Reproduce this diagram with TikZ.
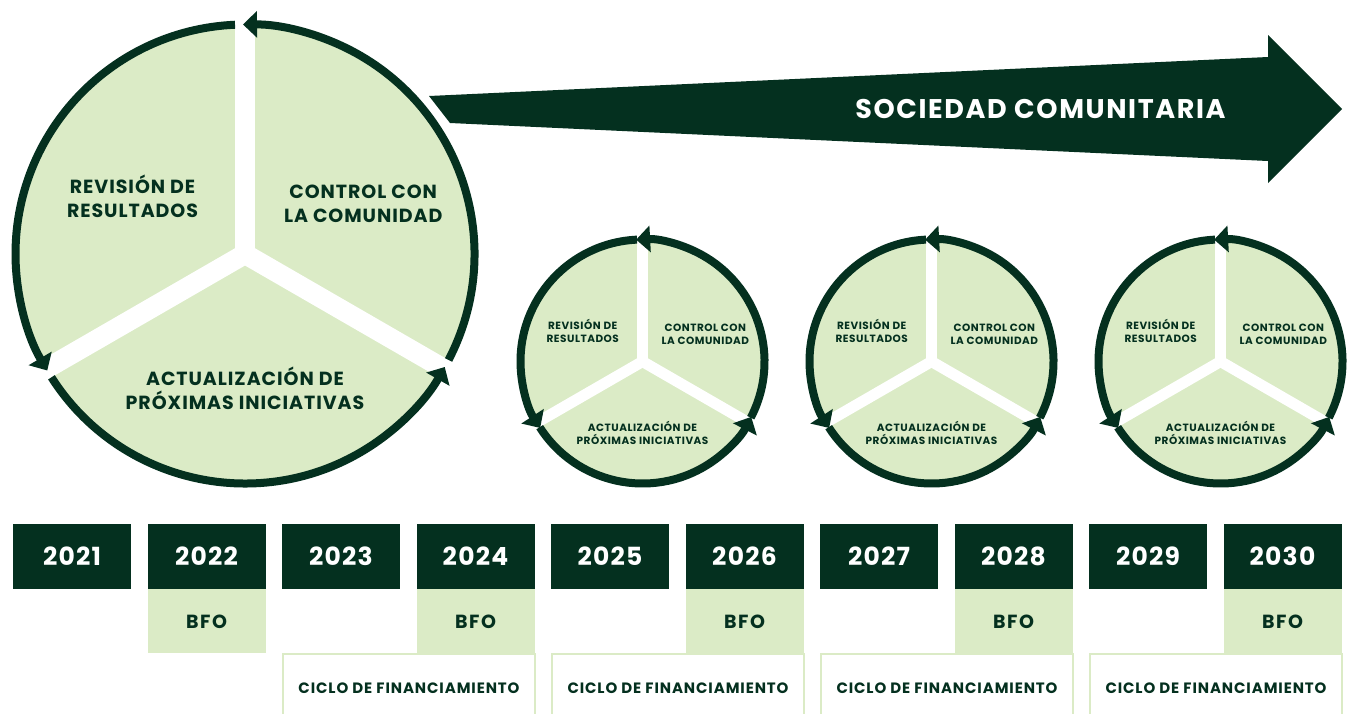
\documentclass[tikz,border=0pt]{standalone}
\usepackage{fontspec}
\setmainfont{Poppins}[LetterSpace=5]
\usetikzlibrary{arrows.meta,positioning}
\definecolor{verdeoscuro}{HTML}{04301F}
\definecolor{verdeclaro}{HTML}{DBEBC6}
\tikzset{
  pics/rueda/.style n args={4}{code={
    % disco con tres sectores
    \fill[verdeclaro] (0,0) circle (#1);
    \foreach \a in {90,210,330}
      \draw[white,line width=#2] (0,0) -- ({\a}:{#1+8});
    % flechas del ciclo
    \foreach \a in {90,210,330}
      \draw[anillo] ({\a+asin(#2/2/#1)}:#1) arc[start angle={\a+asin(#2/2/#1)},end angle={\a+120+#3},radius=#1];
    \node[texto rueda,font=#4] (-rev) at ({-0.49*#1},{0.25*#1}) {REVISIÓN DE\\RESULTADOS};
    \node[texto rueda,font=#4] (-con) at ({0.515*#1},{0.22*#1}) {CONTROL CON\\LA COMUNIDAD};
    \node[texto rueda,font=#4] (-act) at (0,{-0.585*#1}) {ACTUALIZACIÓN DE\\PRÓXIMAS INICIATIVAS};
  }}
}
\begin{document}
\begin{tikzpicture}[x=1pt,y=1pt,
    anillo/.style={verdeoscuro,line width=8,-{Triangle[length=14pt,width=26pt]}},
    texto rueda/.style={align=center,text=verdeoscuro,inner sep=0},
    anio/.style={fill=verdeoscuro,text=white,minimum width=118,minimum height=65,inner sep=0,font=\fontsize{25}{25}\selectfont\bfseries},
    bfo/.style={fill=verdeclaro,text=verdeoscuro,minimum width=118,minimum height=64,inner sep=0,font=\fontsize{19}{19}\selectfont\bfseries\addfontfeature{LetterSpace=8}},
    ciclo/.style={draw=verdeclaro,line width=2,text=verdeoscuro,minimum width=252,minimum height=68,inner sep=0,font=\fontsize{15}{15}\selectfont\bfseries\addfontfeature{LetterSpace=6}}]
  \useasboundingbox[fill=white] (0,0) rectangle (1351,-713);
  \pic (grande) at (245,-254) {rueda={229.5}{20}{0.5}{\fontsize{19}{24}\selectfont\bfseries}};
  \foreach \i in {1,2,3}
    \pic (chica\i) at (353.5+289*\i,-361.5) {rueda={122}{11}{3}{\fontsize{10.5}{13}\selectfont\bfseries}};
  % flecha grande
  \fill[verdeoscuro] (429,-96) -- (1268,-57) -- (1268,-35) -- (1342,-109) -- (1268,-183) -- (1268,-161) -- (450,-123) -- cycle;
  \node[text=white,font=\fontsize{27}{27}\selectfont\bfseries\addfontfeature{LetterSpace=6}] (sociedad) at (1040.5,-108.5) {SOCIEDAD COMUNITARIA};
  % linea de tiempo
  \foreach \i in {0,...,9}
    \node[anio] (a\i) at (72+134.5*\i,-556.5) {\the\numexpr2021+\i\relax};
  \foreach \i in {1,3,...,9}
    \node[bfo,below=0pt of a\i] (b\i) {BFO};
  \foreach \k in {0,...,3}
    \node[ciclo] (c\k) at (409+269*\k,-688) {CICLO DE FINANCIAMIENTO};
\end{tikzpicture}
\end{document}
